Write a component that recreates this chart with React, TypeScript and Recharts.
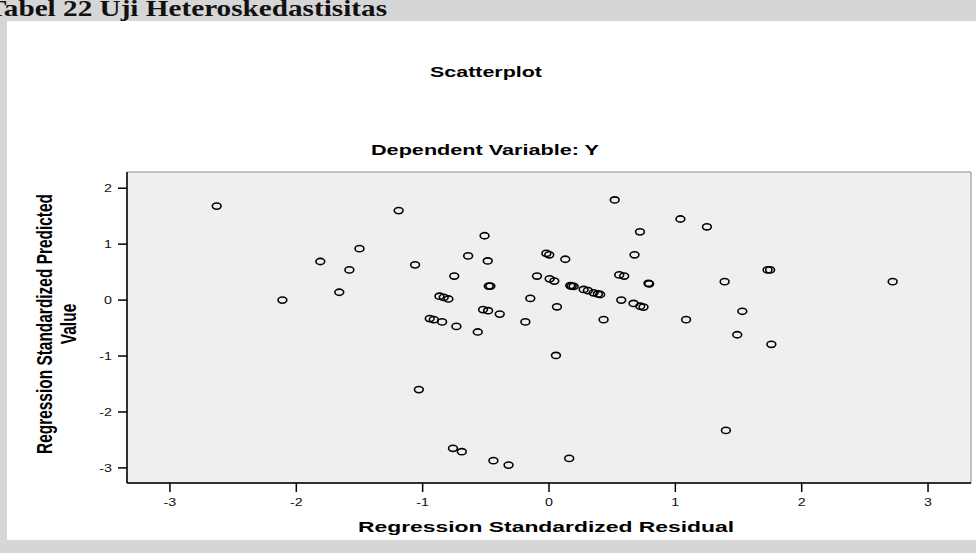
import React from 'react';
import {
  ScatterChart,
  Scatter,
  XAxis,
  YAxis,
  ReferenceArea,
} from 'recharts';

// Regression Standardized Residual (x) / Standardized Predicted Value (y)
const residual = [
  -2.63, -2.11, -1.81, -1.5, -1.58, -1.66, -1.19, -1.06, -1.03, -0.75,
  -0.64, -0.51, -0.485, -0.477, -0.464, -0.867, -0.833, -0.796, -0.944, -0.912,
  -0.846, -0.733, -0.564, -0.522, -0.482, -0.39, -0.187, -0.148, -0.095, -0.021,
  0.002, 0.005, 0.042, 0.129, 0.063, 0.055, 0.168, 0.18, 0.195, 0.274,
  0.308, 0.353, 0.387, 0.405, 0.52, 0.72, 0.677, 0.556, 0.595, 0.787,
  0.793, 0.572, 0.669, 0.722, 0.748, 0.432, -0.76, -0.69, -0.44, -0.32,
  0.16, 1.04, 1.25, 1.73, 1.75, 1.39, 2.72, 1.53, 1.085, 1.49,
  1.76, 1.4,
];

const predicted = [
  1.68, 0.0, 0.69, 0.92, 0.54, 0.14, 1.6, 0.63, -1.6, 0.43,
  0.79, 1.15, 0.7, 0.25, 0.25, 0.07, 0.05, 0.02, -0.33, -0.35,
  -0.39, -0.47, -0.57, -0.17, -0.19, -0.25, -0.39, 0.03, 0.43, 0.835,
  0.81, 0.38, 0.34, 0.73, -0.12, -0.99, 0.26, 0.25, 0.245, 0.19,
  0.17, 0.13, 0.11, 0.1, 1.79, 1.22, 0.81, 0.45, 0.43, 0.3,
  0.29, 0.0, -0.06, -0.11, -0.125, -0.35, -2.65, -2.71, -2.87, -2.95,
  -2.83, 1.45, 1.31, 0.54, 0.54, 0.33, 0.33, -0.2, -0.35, -0.62,
  -0.79, -2.33,
];

const xTicks = [-3, -2, -1, 0, 1, 2, 3];
const yTicks = [-3, -2, -1, 0, 1, 2];
const xDomain = [-3.34, 3.34];
const yDomain = [-3.27, 2.29];

const chartTitle = 'Scatterplot';
const chartSubtitle = 'Dependent Variable: Y';
const xTitle = 'Regression Standardized Residual';
const yTitle = ['Regression Standardized Predicted', 'Value'];
const pageHeading = 'Tabel 22 Uji Heteroskedastisitas';

const FONT = '"Liberation Sans", Arial, sans-serif';
const STRETCH = 1.45;

const points = residual.map((x, i) => ({ x, y: predicted[i] }));

const Ring = (props: any) => (
  <ellipse
    cx={props.cx}
    cy={props.cy}
    rx={4.4}
    ry={3.1}
    fill="none"
    stroke="#000"
    strokeWidth={1.6}
  />
);

const XTick = ({ x, y, payload }: any) => (
  <g transform={`translate(${x},${y + 12}) scale(1.3,1)`}>
    <text textAnchor="middle" fontSize={11} fontFamily={FONT} fill="#111">
      {payload.value}
    </text>
  </g>
);

const YTick = ({ x, y, payload }: any) => (
  <g transform={`translate(${x - 4},${y + 4}) scale(1.3,1)`}>
    <text textAnchor="end" fontSize={11} fontFamily={FONT} fill="#111">
      {payload.value}
    </text>
  </g>
);

export default function App() {
  return (
    <div
      style={{
        position: 'absolute',
        left: 0,
        top: 0,
        width: 976,
        height: 553,
        background: '#d6d6d6',
        overflow: 'hidden',
      }}
    >
      <div
        style={{
          position: 'absolute',
          left: 7,
          top: 21,
          width: 969,
          height: 519,
          background: '#fff',
        }}
      />
      <div style={{ position: 'absolute', left: 0, top: 0 }}>
        <ScatterChart
          width={976}
          height={553}
          margin={{ top: 172, right: 5, bottom: 40, left: 67 }}
        >
          <XAxis
            type="number"
            dataKey="x"
            domain={xDomain}
            ticks={xTicks}
            allowDataOverflow
            height={30}
            tickSize={9}
            axisLine={{ stroke: '#000', strokeWidth: 1.5 }}
            tickLine={{ stroke: '#000', strokeWidth: 1.5 }}
            tick={<XTick />}
          />
          <YAxis
            type="number"
            dataKey="y"
            domain={yDomain}
            ticks={yTicks}
            allowDataOverflow
            width={60}
            tickSize={9}
            axisLine={{ stroke: '#000', strokeWidth: 1.5 }}
            tickLine={{ stroke: '#000', strokeWidth: 1.5 }}
            tick={<YTick />}
          />
          <ReferenceArea
            x1={xDomain[0]}
            x2={xDomain[1]}
            y1={yDomain[0]}
            y2={yDomain[1]}
            fill="#efefef"
            fillOpacity={1}
            stroke="#8a8a8a"
            strokeWidth={1}
          />
          <Scatter data={points} shape={<Ring />} isAnimationActive={false} />
        </ScatterChart>
      </div>
      <svg
        width={976}
        height={553}
        style={{ position: 'absolute', left: 0, top: 0, pointerEvents: 'none' }}
      >
        <text
          x={-13}
          y={16}
          fontFamily='"Liberation Serif", "Times New Roman", serif'
          fontWeight="bold"
          fontSize={23}
          fill="#111"
          textLength={400}
          lengthAdjust="spacingAndGlyphs"
        >
          {pageHeading}
        </text>
        <text
          x={486}
          y={77}
          textAnchor="middle"
          fontFamily={FONT}
          fontWeight="bold"
          fontSize={15}
          textLength={112}
          lengthAdjust="spacingAndGlyphs"
        >
          {chartTitle}
        </text>
        <text
          x={485}
          y={155}
          textAnchor="middle"
          fontFamily={FONT}
          fontWeight="bold"
          fontSize={15}
          textLength={228}
          lengthAdjust="spacingAndGlyphs"
        >
          {chartSubtitle}
        </text>
        <text
          x={546}
          y={532}
          textAnchor="middle"
          fontFamily={FONT}
          fontWeight="bold"
          fontSize={15.5}
          textLength={376}
          lengthAdjust="spacingAndGlyphs"
        >
          {xTitle}
        </text>
        <g transform={`translate(44,324) scale(${STRETCH},1) rotate(-90)`}>
          <text
            textAnchor="middle"
            dominantBaseline="central"
            fontFamily={FONT}
            fontWeight="bold"
            fontSize={15.5}
            textLength={260}
            lengthAdjust="spacingAndGlyphs"
          >
            {yTitle[0]}
          </text>
        </g>
        <g transform={`translate(68,324) scale(${STRETCH},1) rotate(-90)`}>
          <text
            textAnchor="middle"
            dominantBaseline="central"
            fontFamily={FONT}
            fontWeight="bold"
            fontSize={15.5}
          >
            {yTitle[1]}
          </text>
        </g>
      </svg>
    </div>
  );
}
